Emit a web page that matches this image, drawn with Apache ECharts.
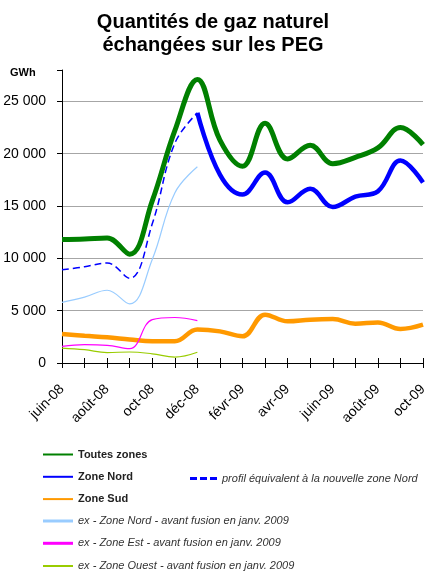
<!DOCTYPE html>
<html>
<head>
<meta charset="utf-8">
<script src="https://cdn.jsdelivr.net/npm/echarts@6/dist/echarts.min.js"></script>
<style>
  html, body { margin: 0; padding: 0; background: #fff; }
  #echartDiv { width: 426px; height: 575px; }
</style>
</head>
<body>
<div id="echartDiv"></div>
<script>
// mois (axe des x)
const months = ["juin-08", "juil-08", "août-08", "sept-08", "oct-08", "nov-08", "déc-08",
  "janv-09", "févr-09", "mars-09", "avr-09", "mai-09", "juin-09", "juil-09", "août-09", "sept-09", "oct-09"];

// valeurs en GWh
const toutesZones = [11800, 11850, 11950, 10400, 15500, 22200, 27100, 21300, 18800, 22900, 19500, 20800, 19050, 19650, 20550, 22500, 20870];
const zoneNord = [null, null, null, null, null, null, 23900, 18000, 16100, 18200, 15350, 16650, 14900, 15900, 16400, 19350, 17250];
const profilNord = [8900, 9200, 9550, 8100, 13300, 21000, 23900];
const zoneSud = [2770, 2600, 2450, 2250, 2080, 2070, 3200, 3020, 2550, 4620, 3980, 4140, 4200, 3760, 3880, 3250, 3660];
const exNord = [5800, 6300, 6950, 5650, 9900, 16250, 18750];
const exEst = [1590, 1750, 1690, 1370, 4150, 4350, 4050];
const exOuest = [1430, 1270, 1000, 1050, 880, 570, 1030];

const yTicks = [0, 5000, 10000, 15000, 20000, 25000];

function fmt(v) {
  if (yTicks.indexOf(v) < 0) return "";
  return String(v).replace(/\B(?=(\d{3})+(?!\d))/g, " ");
}

let chartDom = document.getElementById("echartDiv");
let myChart = echarts.init(chartDom);

const FONT = "Liberation Sans, Arial, sans-serif";

function lineSerie(name, data, color, width, z, dashed) {
  return {
    name: name,
    type: "line",
    data: data,
    smooth: 0.4,
    showSymbol: false,
    symbol: "none",
    connectNulls: false,
    z: z,
    itemStyle: { color: color },
    lineStyle: { color: color, width: width, type: dashed ? [7, 4] : "solid" },
    emphasis: { disabled: true },
  };
}

let option = {
  backgroundColor: "#fff",
  animation: false,
  title: {
    text: "Quantités de gaz naturel\néchangées sur les PEG",
    left: "center",
    top: 6,
    textStyle: {
      fontFamily: FONT,
      fontSize: 20,
      fontWeight: "bold",
      lineHeight: 23,
      color: "#000",
    },
  },
  graphic: [
    {
      type: "text",
      left: 10,
      top: 67,
      style: { text: "GWh", font: "bold 11px " + FONT, fill: "#000" },
    },
  ],
  grid: {
    left: 62,
    right: 3,
    top: 70,
    bottom: 212,
    containLabel: false,
    outerBoundsMode: "none",
  },
  xAxis: [
    {
      type: "category",
      data: months,
      boundaryGap: false,
      position: "bottom",
      axisLine: { lineStyle: { color: "#000", width: 1 } },
      axisTick: { show: true, interval: 0, length: 5, lineStyle: { color: "#000" } },
      axisLabel: {
        interval: 1,
        rotate: 45,
        margin: 24,
        color: "#000",
        fontFamily: FONT,
        fontSize: 14,
      },
      splitLine: { show: false },
    },
    {
      type: "category",
      data: months,
      boundaryGap: false,
      position: "bottom",
      axisLine: { show: false },
      axisTick: { show: true, inside: true, interval: 0, length: 5, lineStyle: { color: "#000" } },
      axisLabel: { show: false },
      splitLine: { show: false },
    },
  ],
  yAxis: {
    type: "value",
    min: 0,
    max: 28000,
    interval: 5000,
    axisLine: { show: true, lineStyle: { color: "#000", width: 1 } },
    axisTick: { show: true, length: 5, lineStyle: { color: "#000" } },
    axisLabel: {
      margin: 16,
      color: "#000",
      fontFamily: FONT,
      fontSize: 14,
      formatter: fmt,
    },
    splitLine: {
      show: true,
      lineStyle: {
        color: ["#a6a6a6", "#a6a6a6", "#a6a6a6", "#a6a6a6", "#a6a6a6", "#a6a6a6", "rgba(0,0,0,0)"],
        width: 1,
      },
    },
  },
  legend: [
    {
      orient: "vertical",
      left: 43,
      top: 448,
      padding: 0,
      itemWidth: 30,
      itemHeight: 2,
      itemGap: 9.3,
      icon: "rect",
      selectedMode: false,
      data: ["Toutes zones", "Zone Nord", "Zone Sud"],
      textStyle: { fontFamily: FONT, fontSize: 11, fontWeight: "bold", color: "#222", lineHeight: 13 },
    },
    {
      orient: "vertical",
      left: 43,
      top: 514.5,
      padding: 0,
      itemWidth: 30,
      itemHeight: 3,
      itemGap: 9.3,
      icon: "rect",
      selectedMode: false,
      data: ["ex - Zone Nord - avant fusion en janv. 2009", "ex - Zone Est - avant fusion en janv. 2009"],
      textStyle: { fontFamily: FONT, fontSize: 11, fontStyle: "italic", color: "#333", lineHeight: 13 },
    },
    {
      orient: "vertical",
      left: 43,
      top: 559.5,
      padding: 0,
      itemWidth: 30,
      itemHeight: 2,
      icon: "rect",
      selectedMode: false,
      data: ["ex - Zone Ouest - avant fusion en janv. 2009"],
      textStyle: { fontFamily: FONT, fontSize: 11, fontStyle: "italic", color: "#333", lineHeight: 13 },
    },
    {
      left: 190,
      top: 472,
      padding: 0,
      itemWidth: 27,
      itemHeight: 3,
      icon: "path://M0,0H7V3H0Z M10,0H17V3H10Z M20,0H27V3H20Z",
      selectedMode: false,
      data: ["profil équivalent à la nouvelle zone Nord"],
      textStyle: { fontFamily: FONT, fontSize: 11, fontStyle: "italic", color: "#333", lineHeight: 13 },
    },
  ],
  series: [
    lineSerie("Toutes zones", toutesZones, "#008000", 5, 2),
    lineSerie("Zone Nord", zoneNord, "#0000ff", 4.5, 3),
    lineSerie("Zone Sud", zoneSud, "#ff9900", 4.5, 2),
    lineSerie("profil équivalent à la nouvelle zone Nord", profilNord, "#0000ff", 1.5, 4, true),
    lineSerie("ex - Zone Nord - avant fusion en janv. 2009", exNord, "#99ccff", 1.2, 4),
    lineSerie("ex - Zone Est - avant fusion en janv. 2009", exEst, "#ff00ff", 1.2, 4),
    lineSerie("ex - Zone Ouest - avant fusion en janv. 2009", exOuest, "#99cc00", 1.2, 4),
  ],
};

option && myChart.setOption(option);
</script>
</body>
</html>
